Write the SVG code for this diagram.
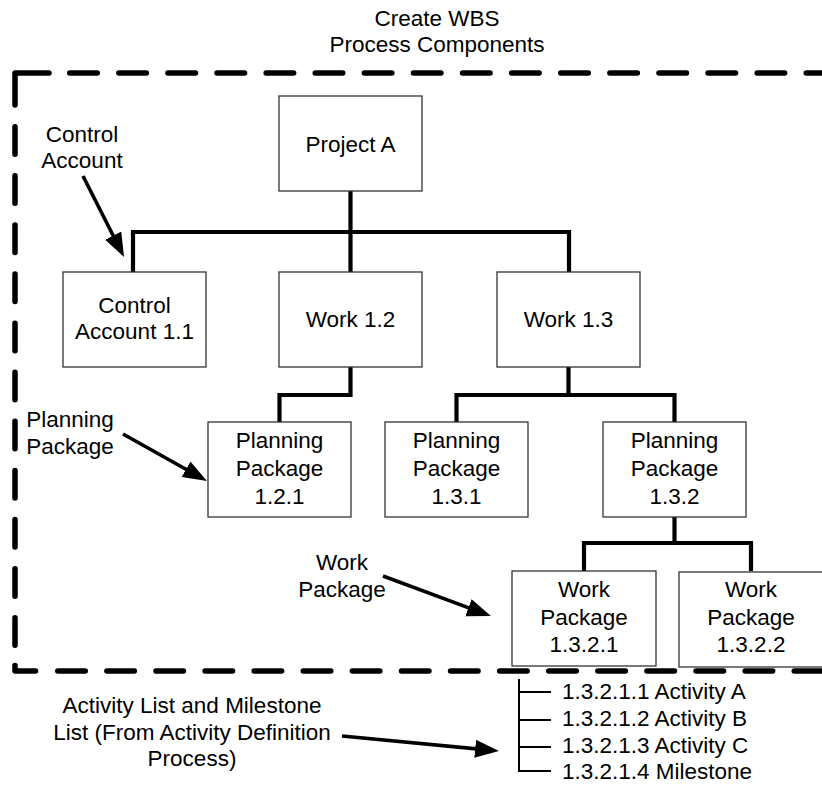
<svg xmlns="http://www.w3.org/2000/svg" width="822" height="785" viewBox="0 0 822 785">
<defs>
<style>
text{font-family:"Liberation Sans",Arial,sans-serif;font-size:22.5px;fill:#000;}
.c{text-anchor:middle;}
.box{fill:#fff;stroke:#333;stroke-width:1.3;}
.conn{fill:none;stroke:#000;stroke-width:4.2;stroke-linejoin:miter;stroke-linecap:butt;}
.frame{fill:none;stroke:#000;stroke-width:5.5;stroke-linecap:round;stroke-linejoin:round;}
.dash{stroke-dasharray:27.5 21.6;}
.arrow{fill:none;stroke:#000;stroke-width:3.6;marker-end:url(#ah);}
.tree{fill:none;stroke:#000;stroke-width:2;}
</style>
<marker id="ah" markerUnits="userSpaceOnUse" markerWidth="26" markerHeight="20" refX="4" refY="9" orient="auto">
<path d="M0,0 L24,9 L0,18 Z" fill="#000"/>
</marker>
</defs>
<rect width="822" height="785" fill="#fff"/>

<g id="title">
<text class="c" x="437" y="26">Create WBS</text>
<text class="c" x="437" y="52">Process Components</text>
</g>

<g id="frame">
<path class="frame" d="M15,105 V73 H49"/>
<path class="frame dash" d="M69.75,73 H840"/>
<path class="frame dash" d="M15,126.75 V660"/>
<path class="frame" d="M15,665.5 V671 H35.5"/>
<path class="frame dash" d="M57.75,671 H840"/>
</g>

<g id="connectors">
<path class="conn" d="M350.5,191 V232 M133,272 V232 H569 V272 M350.5,232 V272"/>
<path class="conn" d="M350.5,367 V395 H279.5 V422"/>
<path class="conn" d="M568.5,367 V395 M456.5,422 V395 H674.5 V422"/>
<path class="conn" d="M674.5,517 V543 M584,571 V543 H751 V571"/>
</g>

<g id="node-project-a">
<rect class="box" x="279" y="96" width="143" height="95"/>
<text class="c" x="350.5" y="151.5">Project A</text>
</g>
<g id="node-control-account-1-1">
<rect class="box" x="63" y="272" width="143" height="95"/>
<text class="c" x="134.5" y="313">Control</text>
<text class="c" x="134.5" y="339">Account 1.1</text>
</g>
<g id="node-work-1-2">
<rect class="box" x="279" y="272" width="143" height="95"/>
<text class="c" x="350.5" y="327">Work 1.2</text>
</g>
<g id="node-work-1-3">
<rect class="box" x="497" y="272" width="143" height="95"/>
<text class="c" x="568.5" y="327">Work 1.3</text>
</g>
<g id="node-pp-1-2-1">
<rect class="box" x="208" y="422" width="143" height="95"/>
<text class="c" x="279.5" y="448">Planning</text>
<text class="c" x="279.5" y="476">Package</text>
<text class="c" x="279.5" y="504">1.2.1</text>
</g>
<g id="node-pp-1-3-1">
<rect class="box" x="385" y="422" width="143" height="95"/>
<text class="c" x="456.5" y="448">Planning</text>
<text class="c" x="456.5" y="476">Package</text>
<text class="c" x="456.5" y="504">1.3.1</text>
</g>
<g id="node-pp-1-3-2">
<rect class="box" x="603" y="422" width="143" height="95"/>
<text class="c" x="674.5" y="448">Planning</text>
<text class="c" x="674.5" y="476">Package</text>
<text class="c" x="674.5" y="504">1.3.2</text>
</g>
<g id="node-wp-1-3-2-1">
<rect class="box" x="512" y="571" width="144" height="95"/>
<text class="c" x="584" y="597">Work</text>
<text class="c" x="584" y="624.5">Package</text>
<text class="c" x="584" y="652">1.3.2.1</text>
</g>
<g id="node-wp-1-3-2-2">
<rect class="box" x="679" y="572" width="145" height="95"/>
<text class="c" x="751" y="597">Work</text>
<text class="c" x="751" y="624.5">Package</text>
<text class="c" x="751" y="652">1.3.2.2</text>
</g>

<g id="activity-list">
<path class="tree" d="M519,679 V771 H551 M519,692 H551 M519,720 H551 M519,747 H551"/>
<text x="562" y="699">1.3.2.1.1 Activity A</text>
<text x="562" y="726">1.3.2.1.2 Activity B</text>
<text x="562" y="753">1.3.2.1.3 Activity C</text>
<text x="562" y="779">1.3.2.1.4 Milestone</text>
</g>

<g id="label-control-account">
<text class="c" x="82" y="142">Control</text>
<text class="c" x="82" y="168">Account</text>
<path class="arrow" d="M83,176 L115,239.2"/>
</g>
<g id="label-planning-package">
<text class="c" x="70" y="427">Planning</text>
<text class="c" x="70" y="454">Package</text>
<path class="arrow" d="M123,434 L189.5,471.2"/>
</g>
<g id="label-work-package">
<text class="c" x="342" y="570">Work</text>
<text class="c" x="342" y="597">Package</text>
<path class="arrow" d="M383,576 L472.2,609.1"/>
</g>
<g id="label-activity-list">
<text class="c" x="192" y="713">Activity List and Milestone</text>
<text class="c" x="192" y="740">List (From Activity Definition</text>
<text class="c" x="192" y="766">Process)</text>
<path class="arrow" d="M342,736 L479.1,749.1"/>
</g>
</svg>
